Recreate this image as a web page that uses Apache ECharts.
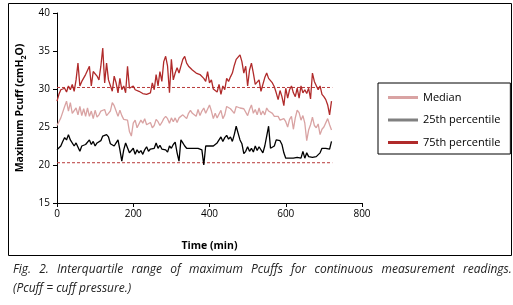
<!DOCTYPE html>
<html>
<head>
<meta charset="utf-8">
<script src="https://cdn.jsdelivr.net/npm/echarts@6/dist/echarts.min.js"></script>
<style>
  html, body { margin: 0; padding: 0; background: #fff; }
  #main { width: 513px; height: 305px; }
</style>
</head>
<body>
<div id="main"></div>
<script type="text/javascript">
// time in minutes, one reading every 5 min
var times = [];
for (var t = 0; t <= 720; t += 5) times.push(t);

var p75 = [
  28.4, 29.3, 29.9, 29.7, 30.1, 29.6, 30.4, 29.9, 30.6, 29.7,
  31.2, 33.4, 30.4, 31.0, 30.8, 31.9, 32.1, 33.0, 30.4, 32.3,
  32.3, 31.7, 31.2, 33.0, 35.4, 30.8, 33.4, 31.2, 31.4, 29.7,
  31.7, 30.8, 29.5, 31.4, 29.9, 30.4, 29.5, 33.0, 30.1, 29.9,
  30.4, 29.9, 30.1, 29.7, 29.5, 29.4, 29.5, 29.3, 29.3, 29.5,
  30.8, 29.9, 31.9, 30.4, 32.3, 31.0, 33.6, 34.3, 33.0, 29.5,
  33.9, 31.2, 32.1, 32.8, 32.1, 33.0, 33.9, 34.3, 33.4, 33.0,
  32.8, 32.5, 32.3, 32.1, 32.3, 31.9, 31.7, 31.4, 31.0, 32.3,
  30.8, 31.2, 30.0, 29.9, 29.6, 30.6, 29.3, 30.4, 29.9, 31.4,
  31.0, 31.6, 32.1, 33.1, 33.9, 33.9, 34.5, 33.6, 32.1, 33.0,
  30.4, 32.5, 33.4, 32.1, 30.6, 30.4, 31.2, 29.7, 29.9, 31.5,
  32.1, 31.4, 31.6, 30.8, 30.3, 29.5, 28.6, 29.8, 29.0, 27.8,
  30.1, 28.8, 29.9, 30.4, 29.5, 29.0, 30.1, 28.8, 30.4, 29.5,
  29.9, 29.4, 30.1, 28.7, 32.1, 31.0, 31.2, 29.9, 30.4, 29.3,
  29.0, 28.6, 27.9, 26.6, 28.4
];

var median = [
  25.2, 25.7, 26.2, 26.4, 27.7, 28.4, 27.1, 28.2, 26.8, 26.6,
  27.5, 26.6, 27.7, 26.5, 27.4, 26.4, 27.5, 26.4, 27.1, 26.1,
  27.2, 26.3, 26.6, 27.1, 27.1, 27.3, 26.5, 26.8, 27.1, 28.2,
  27.8, 27.1, 26.4, 27.2, 26.5, 26.0, 25.9, 25.9, 24.4, 23.8,
  25.5, 25.9, 24.9, 25.0, 25.9, 25.5, 26.1, 25.3, 25.3, 25.6,
  24.9, 25.2, 26.0, 25.7, 25.2, 25.6, 26.1, 26.4, 26.1, 25.5,
  26.2, 25.7, 26.2, 25.6, 26.2, 26.0, 26.6, 26.8, 26.1, 26.8,
  27.2, 26.8, 26.8, 26.4, 27.3, 26.5, 27.1, 27.5, 26.8, 26.8,
  27.9, 27.1, 26.1, 26.8, 26.2, 26.0, 27.2, 26.1, 26.6, 27.7,
  27.7, 27.4, 27.6, 26.8, 27.7, 27.5, 27.5, 27.4, 27.4, 27.6,
  26.5, 27.3, 27.9, 26.8, 27.3, 26.6, 27.5, 26.6, 27.1, 26.6,
  27.5, 27.1, 27.2, 26.8, 26.4, 26.2, 26.4, 25.9, 25.7, 26.1,
  25.7, 25.0, 26.0, 26.4, 24.7, 26.2, 27.2, 26.9, 25.9, 26.5,
  25.5, 23.2, 24.6, 25.3, 26.3, 25.2, 24.9, 25.4, 24.0, 24.7,
  25.0, 25.2, 26.1, 25.3, 24.6
];

var p25 = [
  22.0, 22.2, 22.5, 23.1, 23.6, 23.3, 24.0, 23.3, 23.3, 22.5,
  22.9, 22.7, 21.8, 22.5, 22.4, 22.7, 22.5, 23.3, 22.7, 23.1,
  22.5, 22.9, 23.1, 23.2, 23.8, 23.6, 24.0, 23.7, 22.8, 22.9,
  22.5, 22.9, 23.3, 22.0, 20.5, 22.0, 22.9, 22.7, 21.6, 21.4,
  22.2, 21.4, 22.0, 21.6, 21.9, 21.4, 22.0, 22.4, 21.8, 22.1,
  22.1, 22.2, 22.9, 22.2, 22.6, 22.1, 22.0, 22.0, 21.7, 22.5,
  22.2, 22.7, 23.0, 21.6, 20.5, 23.3, 22.9, 22.5, 22.2, 22.2,
  22.2, 22.2, 22.2, 22.4, 22.2, 22.2, 22.0, 20.0, 22.5, 22.5,
  22.5, 22.5, 22.5, 22.5, 22.9, 23.3, 23.7, 23.1, 23.6, 23.9,
  23.4, 23.7, 23.1, 24.0, 25.1, 24.2, 23.3, 22.8, 21.5, 21.8,
  22.4, 21.8, 22.2, 21.7, 22.5, 21.9, 22.4, 22.2, 21.6, 22.5,
  23.8, 25.1, 22.2, 22.1, 22.5, 23.3, 23.3, 23.2, 22.7, 21.6,
  20.9, 21.0, 20.9, 21.0, 20.9, 20.9, 21.0, 20.9, 20.9, 21.8,
  20.9, 21.6, 21.1, 21.1, 21.0, 21.1, 21.1, 21.0, 21.6, 22.2,
  22.2, 22.2, 22.0, 22.1, 23.1
];

// dashed reference lines
var refLevels = [30.2, 20.3];
var refEnd = 722;

var captionLines = [
  'Fig. 2. Interquartile range of maximum Pcuffs for continuous measurement readings.',
  '(Pcuff = cuff pressure.)'
];

function pairs(vals) {
  return vals.map(function (v, i) { return [times[i], v]; });
}

var font = 'Open Sans';
var myChart = echarts.init(document.getElementById('main'));

var series = [
  { name: 'Median', type: 'line', data: pairs(median), showSymbol: false,
    lineStyle: { color: '#d9a3a3', width: 1.3 }, itemStyle: { color: '#d9a3a3' } },
  { name: '25th percentile', type: 'line', data: pairs(p25), showSymbol: false,
    lineStyle: { color: '#000', width: 1.3 }, itemStyle: { color: '#000' } },
  { name: '75th percentile', type: 'line', data: pairs(p75), showSymbol: false,
    lineStyle: { color: '#b02a2a', width: 1.3 }, itemStyle: { color: '#b02a2a' } }
];
refLevels.forEach(function (lv) {
  series.push({
    type: 'line', silent: true, showSymbol: false, z: 1,
    data: [[0, lv], [refEnd, lv]],
    lineStyle: { color: '#b83a3a', width: 1, type: [3, 2] }
  });
});

// first caption line is justified in the figure: widen the word gaps
var capStyle = { fontFamily: font, fontStyle: 'italic', fontSize: 12, fill: '#222' };
var gapRich = { w: { width: 8.2 } };

var option = {
  animation: false,
  textStyle: { fontFamily: font },
  grid: { left: 57, top: 13, width: 305, height: 190 },
  legend: {
    orient: 'vertical', left: 378, top: 83,
    borderColor: '#000', borderWidth: 1,
    padding: [9, 10, 6, 10], itemGap: 11.5,
    icon: 'rect', itemWidth: 30, itemHeight: 3,
    textStyle: { fontFamily: font, fontSize: 11, color: '#000' },
    data: [
      { name: 'Median', itemStyle: { color: '#d9a3a3' } },
      { name: '25th percentile', itemStyle: { color: '#808080' } },
      { name: '75th percentile', itemStyle: { color: '#b02a2a' } }
    ]
  },
  xAxis: {
    type: 'value', min: 0, max: 800, interval: 200,
    name: 'Time (min)', nameLocation: 'middle', nameGap: 38,
    nameTextStyle: { fontFamily: font, fontWeight: 'bold', fontSize: 10.5, color: '#000' },
    axisLine: { lineStyle: { color: '#000', width: 1 } },
    axisTick: { length: 4, lineStyle: { color: '#000' } },
    axisLabel: { fontSize: 10, color: '#000', margin: 6 },
    splitLine: { show: false }
  },
  yAxis: {
    type: 'value', min: 15, max: 40, interval: 5,
    name: '{a|Maximum Pcuff (cmH}{s|2}{a|O)}', nameLocation: 'middle', nameGap: 30,
    nameTextStyle: {
      rich: {
        a: { fontFamily: font, fontWeight: 'bold', fontSize: 10.5, color: '#000', lineHeight: 14 },
        s: { fontFamily: font, fontWeight: 'bold', fontSize: 7, color: '#000', lineHeight: 6, verticalAlign: 'bottom' }
      }
    },
    axisLine: { show: true, lineStyle: { color: '#000', width: 1 } },
    axisTick: { show: true, length: 4, lineStyle: { color: '#000' } },
    axisLabel: { fontSize: 10, color: '#000', margin: 7 },
    splitLine: { show: false }
  },
  graphic: [
    { type: 'rect', shape: { x: 8.5, y: 3.5, width: 503, height: 252 },
      style: { fill: 'none', stroke: '#000', lineWidth: 1 }, silent: true },
    { type: 'text', left: 13, top: 264,
      style: Object.assign({ text: captionLines[0].split(' ').join('{w| }'), rich: gapRich }, capStyle) },
    { type: 'text', left: 13, top: 283,
      style: Object.assign({ text: captionLines[1] }, capStyle) }
  ],
  series: series
};
myChart.setOption(option);
</script>
</body>
</html>
